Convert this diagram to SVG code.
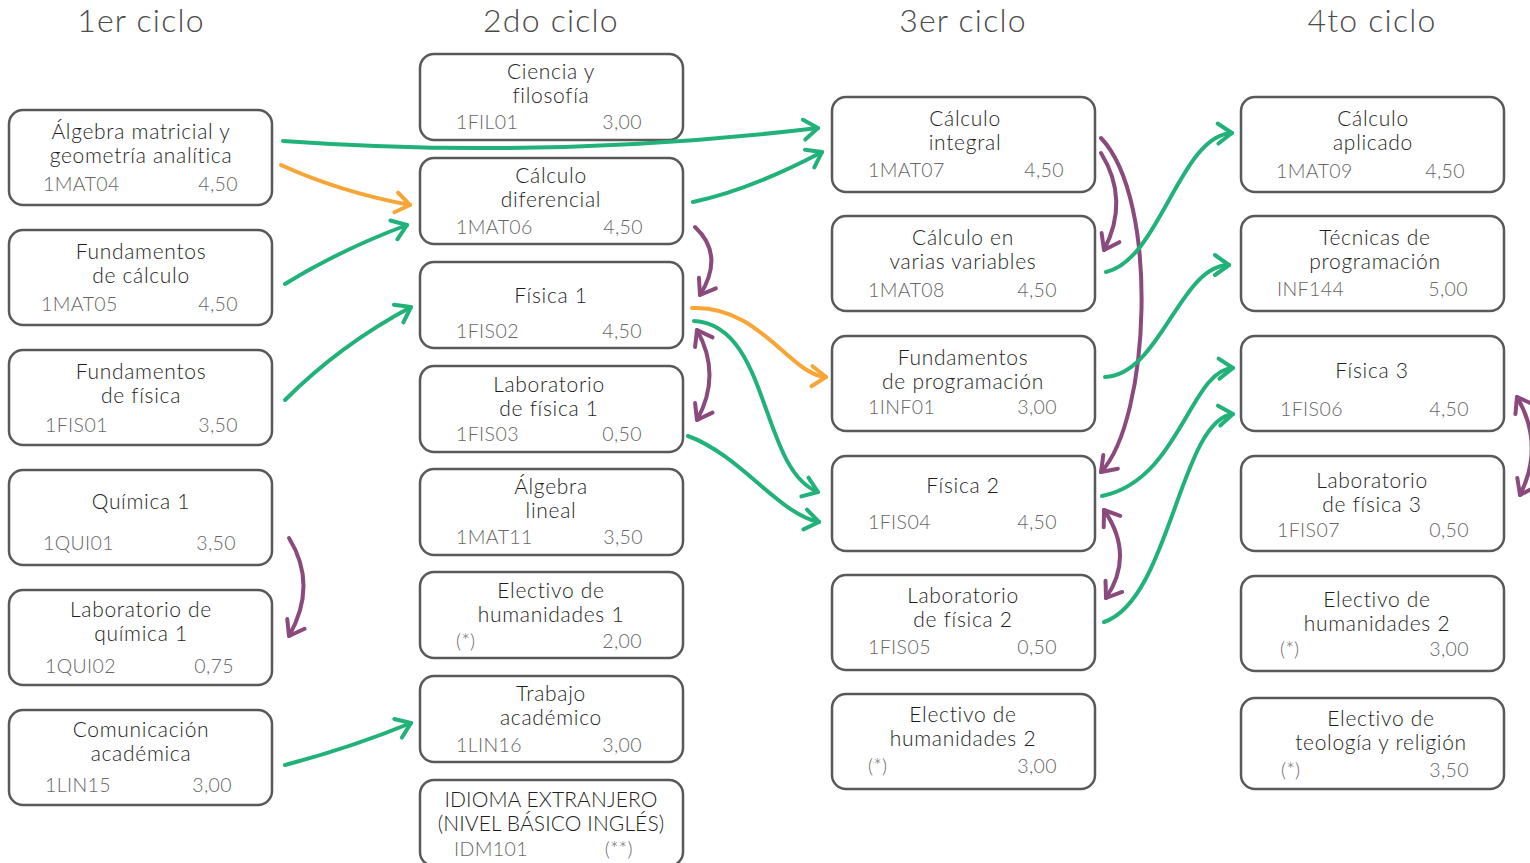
<svg xmlns="http://www.w3.org/2000/svg" width="1530" height="863" viewBox="0 0 1530 863">
<style>
.box{fill:#fff;stroke:#595959;stroke-width:2.5}
.hd{font-family:Lato,"Liberation Sans",sans-serif;font-weight:300;font-size:32px;letter-spacing:1.2px;fill:#4a4a4a;text-anchor:middle}
.t{font-family:Lato,"Liberation Sans",sans-serif;font-weight:300;font-size:21px;letter-spacing:0.7px;fill:#1e1e1e;text-anchor:middle}
.c{font-family:Lato,"Liberation Sans",sans-serif;font-weight:300;font-size:19.5px;letter-spacing:0.4px;fill:#666}
.r{text-anchor:end}
.n{letter-spacing:0.1px}
.g{fill:none;stroke:#21b27a;stroke-width:4;stroke-linecap:round}
.o{fill:none;stroke:#f8a535;stroke-width:4;stroke-linecap:round}
.p{fill:none;stroke:#8b4a7e;stroke-width:4;stroke-linecap:round}
</style>
<defs>
<marker id="ag" markerUnits="userSpaceOnUse" markerWidth="40" markerHeight="40" refX="20" refY="20" orient="auto-start-reverse" viewBox="0 0 40 40"><path d="M6,10 L20,20 L6,30" fill="none" stroke="#21b27a" stroke-width="4" stroke-linecap="round" stroke-linejoin="round"/></marker>
<marker id="ao" markerUnits="userSpaceOnUse" markerWidth="40" markerHeight="40" refX="20" refY="20" orient="auto-start-reverse" viewBox="0 0 40 40"><path d="M6,10 L20,20 L6,30" fill="none" stroke="#f8a535" stroke-width="4" stroke-linecap="round" stroke-linejoin="round"/></marker>
<marker id="ap" markerUnits="userSpaceOnUse" markerWidth="40" markerHeight="40" refX="20" refY="20" orient="auto-start-reverse" viewBox="0 0 40 40"><path d="M6,10 L20,20 L6,30" fill="none" stroke="#8b4a7e" stroke-width="4" stroke-linecap="round" stroke-linejoin="round"/></marker>
</defs>
<rect width="1530" height="863" fill="#fff"/>
<g id="headers">
<text class="hd" x="141" y="32">1er ciclo</text>
<text class="hd" x="551" y="32">2do ciclo</text>
<text class="hd" x="963" y="32">3er ciclo</text>
<text class="hd" x="1372" y="32">4to ciclo</text>
</g>
<!-- Column 1 -->
<g id="n1MAT04"><rect class="box" x="9" y="110" width="263" height="95" rx="14"/><text class="t" x="141" y="139">Álgebra matricial y</text><text class="t" x="141" y="163">geometría analítica</text><text class="c" x="43" y="191">1MAT04</text><text class="c r" x="238" y="191">4,50</text></g>
<g id="n1MAT05"><rect class="box" x="9" y="230" width="263" height="95" rx="14"/><text class="t" x="141" y="259">Fundamentos</text><text class="t" x="141" y="283">de cálculo</text><text class="c" x="41" y="311">1MAT05</text><text class="c r" x="238" y="311">4,50</text></g>
<g id="n1FIS01"><rect class="box" x="9" y="350" width="263" height="95" rx="14"/><text class="t" x="141" y="379">Fundamentos</text><text class="t" x="141" y="403">de física</text><text class="c" x="45" y="432">1FIS01</text><text class="c r" x="238" y="432">3,50</text></g>
<g id="n1QUI01"><rect class="box" x="9" y="470" width="263" height="95" rx="14"/><text class="t" x="141" y="509">Química 1</text><text class="c" x="43" y="550">1QUI01</text><text class="c r" x="236" y="550">3,50</text></g>
<g id="n1QUI02"><rect class="box" x="9" y="590" width="263" height="95" rx="14"/><text class="t" x="141" y="617">Laboratorio de</text><text class="t" x="141" y="641">química 1</text><text class="c" x="45" y="673">1QUI02</text><text class="c r" x="234" y="673">0,75</text></g>
<g id="n1LIN15"><rect class="box" x="9" y="710" width="263" height="95" rx="14"/><text class="t" x="141" y="737">Comunicación</text><text class="t" x="141" y="761">académica</text><text class="c" x="45" y="792">1LIN15</text><text class="c r" x="232" y="792">3,00</text></g>
<!-- Column 2 -->
<g id="n1FIL01"><rect class="box" x="420" y="54" width="263" height="86" rx="14"/><text class="t" x="551" y="79">Ciencia y</text><text class="t" x="551" y="103">filosofía</text><text class="c" x="456" y="129">1FIL01</text><text class="c r" x="642" y="129">3,00</text></g>
<g id="n1MAT06"><rect class="box" x="420" y="158" width="263" height="86" rx="14"/><text class="t" x="551" y="183">Cálculo</text><text class="t" x="551" y="207">diferencial</text><text class="c" x="456" y="234">1MAT06</text><text class="c r" x="643" y="234">4,50</text></g>
<g id="n1FIS02"><rect class="box" x="420" y="262" width="263" height="86" rx="14"/><text class="t" x="551" y="303">Física 1</text><text class="c" x="456" y="338">1FIS02</text><text class="c r" x="642" y="338">4,50</text></g>
<g id="n1FIS03"><rect class="box" x="420" y="366" width="263" height="86" rx="14"/><text class="t" x="549" y="392">Laboratorio</text><text class="t" x="549" y="416">de física 1</text><text class="c" x="456" y="441">1FIS03</text><text class="c r" x="642" y="441">0,50</text></g>
<g id="n1MAT11"><rect class="box" x="420" y="469" width="263" height="86" rx="14"/><text class="t" x="551" y="494">Álgebra</text><text class="t" x="551" y="518">lineal</text><text class="c" x="456" y="544">1MAT11</text><text class="c r" x="643" y="544">3,50</text></g>
<g id="nEH1"><rect class="box" x="420" y="572" width="263" height="86" rx="14"/><text class="t" x="551" y="598">Electivo de</text><text class="t" x="551" y="622">humanidades 1</text><text class="c" x="456" y="648">(*)</text><text class="c r" x="642" y="648">2,00</text></g>
<g id="n1LIN16"><rect class="box" x="420" y="676" width="263" height="86" rx="14"/><text class="t" x="551" y="701">Trabajo</text><text class="t" x="551" y="725">académico</text><text class="c" x="456" y="752">1LIN16</text><text class="c r" x="642" y="752">3,00</text></g>
<g id="nIDM101"><rect class="box" x="420" y="780" width="263" height="86" rx="14"/><text class="t n" x="551" y="807">IDIOMA EXTRANJERO</text><text class="t n" x="551" y="831">(NIVEL BÁSICO INGLÉS)</text><text class="c" x="454" y="856">IDM101</text><text class="c r" x="633" y="856">(**)</text></g>
<!-- Column 3 -->
<g id="n1MAT07"><rect class="box" x="832" y="97" width="263" height="95" rx="14"/><text class="t" x="965" y="126">Cálculo</text><text class="t" x="965" y="150">integral</text><text class="c" x="868" y="177">1MAT07</text><text class="c r" x="1064" y="177">4,50</text></g>
<g id="n1MAT08"><rect class="box" x="832" y="216" width="263" height="95" rx="14"/><text class="t" x="963" y="245">Cálculo en</text><text class="t" x="963" y="269">varias variables</text><text class="c" x="868" y="297">1MAT08</text><text class="c r" x="1057" y="297">4,50</text></g>
<g id="n1INF01"><rect class="box" x="832" y="336" width="263" height="95" rx="14"/><text class="t" x="963" y="365">Fundamentos</text><text class="t" x="963" y="389">de programación</text><text class="c" x="868" y="414">1INF01</text><text class="c r" x="1057" y="414">3,00</text></g>
<g id="n1FIS04"><rect class="box" x="832" y="456" width="263" height="95" rx="14"/><text class="t" x="963" y="493">Física 2</text><text class="c" x="868" y="529">1FIS04</text><text class="c r" x="1057" y="529">4,50</text></g>
<g id="n1FIS05"><rect class="box" x="832" y="575" width="263" height="95" rx="14"/><text class="t" x="963" y="603">Laboratorio</text><text class="t" x="963" y="627">de física 2</text><text class="c" x="868" y="654">1FIS05</text><text class="c r" x="1057" y="654">0,50</text></g>
<g id="nEH2a"><rect class="box" x="832" y="694" width="263" height="95" rx="14"/><text class="t" x="963" y="722">Electivo de</text><text class="t" x="963" y="746">humanidades 2</text><text class="c" x="868" y="773">(*)</text><text class="c r" x="1057" y="773">3,00</text></g>
<!-- Column 4 -->
<g id="n1MAT09"><rect class="box" x="1241" y="97" width="263" height="95" rx="14"/><text class="t" x="1373" y="126">Cálculo</text><text class="t" x="1373" y="150">aplicado</text><text class="c" x="1276" y="178">1MAT09</text><text class="c r" x="1465" y="178">4,50</text></g>
<g id="nINF144"><rect class="box" x="1241" y="216" width="263" height="95" rx="14"/><text class="t" x="1375" y="245">Técnicas de</text><text class="t" x="1375" y="269">programación</text><text class="c" x="1277" y="296">INF144</text><text class="c r" x="1468" y="296">5,00</text></g>
<g id="n1FIS06"><rect class="box" x="1241" y="336" width="263" height="95" rx="14"/><text class="t" x="1372" y="378">Física 3</text><text class="c" x="1280" y="416">1FIS06</text><text class="c r" x="1469" y="416">4,50</text></g>
<g id="n1FIS07"><rect class="box" x="1241" y="456" width="263" height="95" rx="14"/><text class="t" x="1372" y="488">Laboratorio</text><text class="t" x="1372" y="512">de física 3</text><text class="c" x="1277" y="537">1FIS07</text><text class="c r" x="1469" y="537">0,50</text></g>
<g id="nEH2b"><rect class="box" x="1241" y="576" width="263" height="95" rx="14"/><text class="t" x="1377" y="607">Electivo de</text><text class="t" x="1377" y="631">humanidades 2</text><text class="c" x="1280" y="656">(*)</text><text class="c r" x="1469" y="656">3,00</text></g>
<g id="nETR"><rect class="box" x="1241" y="698" width="263" height="91" rx="14"/><text class="t" x="1381" y="726">Electivo de</text><text class="t" x="1381" y="750">teología y religión</text><text class="c" x="1281" y="777">(*)</text><text class="c r" x="1469" y="777">3,50</text></g>
<!-- Connectors -->
<g id="connectors">
<path class="g" d="M283,141 Q550,160 818,128" marker-end="url(#ag)"/>
<path class="o" d="M281,165 Q340,192 410,205" marker-end="url(#ao)"/>
<path class="g" d="M285,284 Q340,250 407,225" marker-end="url(#ag)"/>
<path class="g" d="M285,400 Q340,345 411,307" marker-end="url(#ag)"/>
<path class="p" d="M289,538 Q318,585 289,636" marker-end="url(#ap)"/>
<path class="g" d="M285,765 Q350,748 411,723" marker-end="url(#ag)"/>
<path class="g" d="M693,202 Q750,190 822,152" marker-end="url(#ag)"/>
<path class="p" d="M695,227 Q725,255 700,295" marker-end="url(#ap)"/>
<path class="o" d="M692,308 C760,305 790,375 826,377" marker-end="url(#ao)"/>
<path class="g" d="M694,321 C770,325 760,470 818,492" marker-end="url(#ag)"/>
<path class="p" d="M697,330 Q722,375 697,420" marker-start="url(#ap)" marker-end="url(#ap)"/>
<path class="g" d="M688,436 C740,455 780,515 819,522" marker-end="url(#ag)"/>
<path class="p" d="M1101,153 Q1130,200 1104,250" marker-end="url(#ap)"/>
<path class="p" d="M1101,138 C1160,200 1150,420 1101,472" marker-end="url(#ap)"/>
<path class="g" d="M1106,272 C1160,260 1180,135 1232,133" marker-end="url(#ag)"/>
<path class="g" d="M1105,377 C1160,375 1180,265 1229,265" marker-end="url(#ag)"/>
<path class="g" d="M1102,496 C1180,480 1190,370 1233,368" marker-end="url(#ag)"/>
<path class="p" d="M1104,510 Q1135,555 1106,598" marker-start="url(#ap)" marker-end="url(#ap)"/>
<path class="g" d="M1104,622 C1170,600 1180,420 1233,414" marker-end="url(#ag)"/>
<path class="p" d="M1517,397 Q1545,445 1520,495" marker-start="url(#ap)" marker-end="url(#ap)"/>
</g>
</svg>
